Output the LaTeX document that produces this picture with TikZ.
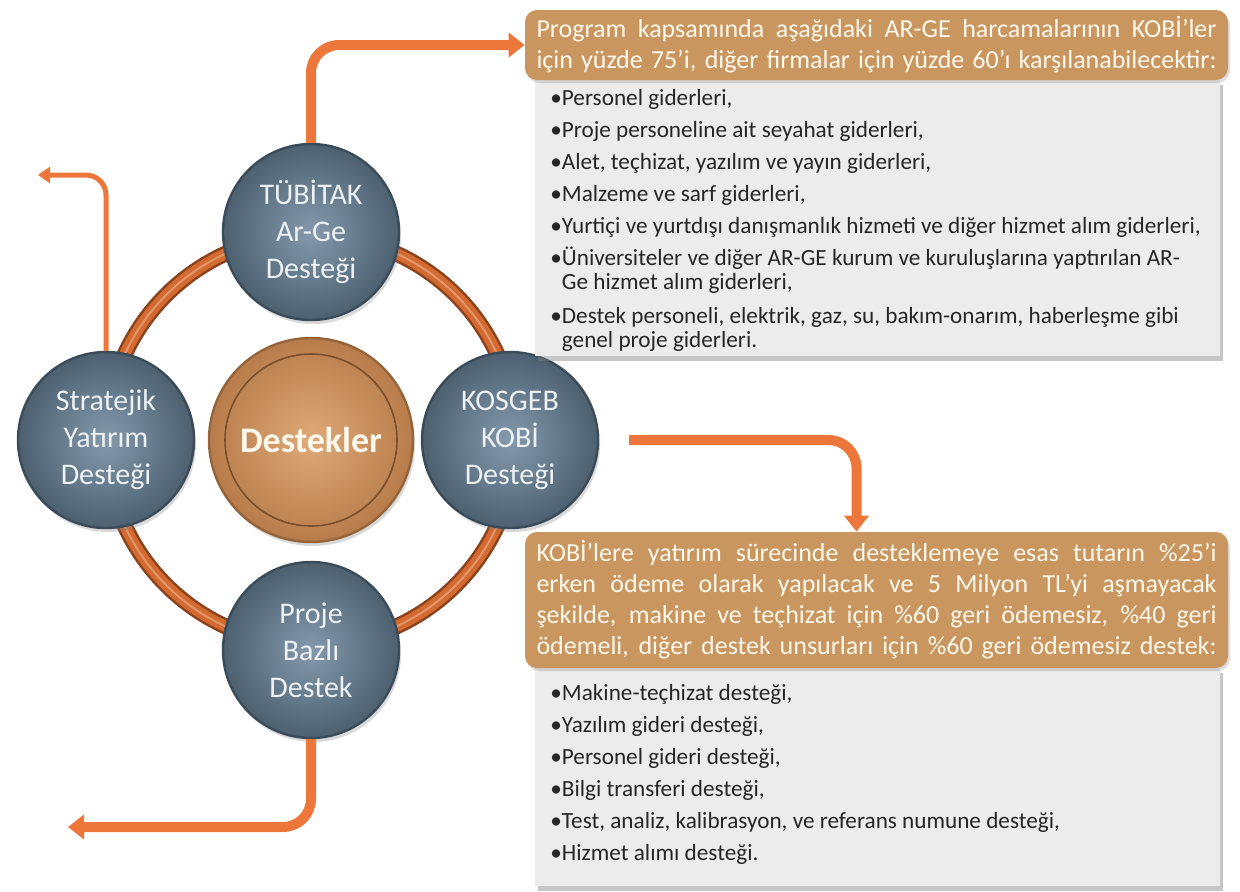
\documentclass[tikz,border=0pt]{standalone}
\usepackage{fontspec}
\setmainfont{Carlito}
\usepackage{tikz}
\usetikzlibrary{arrows.meta,positioning,calc,shadows}

\definecolor{slatein}{RGB}{132,154,172}
\definecolor{slateout}{RGB}{76,96,112}
\definecolor{slaterim}{RGB}{58,76,90}
\definecolor{hubin}{RGB}{222,170,120}
\definecolor{hubout}{RGB}{184,124,74}
\definecolor{hubrim}{RGB}{150,100,58}
\definecolor{ringorange}{RGB}{212,106,48}
\definecolor{ringdark}{RGB}{140,66,28}
\definecolor{arroworange}{RGB}{237,118,58}
\definecolor{headtan}{RGB}{201,150,96}
\definecolor{headtext}{RGB}{255,248,236}
\definecolor{listgray}{RGB}{236,236,236}
\definecolor{circtext}{RGB}{236,241,244}

\newlength\headw
\setlength\headw{340pt}
\newcommand{\hl}[1]{\makebox[\headw][s]{#1}}
\newcommand{\gap}{\phantom{\textbullet}}

\begin{document}
\begin{tikzpicture}[x=0.5pt,y=-0.5pt,
  pill/.style={circle, minimum size=88pt, inner sep=0pt, align=center,
    shading=radial, inner color=slatein, outer color=slateout,
    draw=slaterim, line width=1.2pt, text=circtext,
    font=\fontsize{15}{18.5}\selectfont,
    drop shadow={opacity=0.3, shadow xshift=1pt, shadow yshift=-2pt}},
  hub/.style={circle, minimum size=102pt, inner sep=0pt,
    shading=radial, inner color=hubin, outer color=hubout,
    draw=hubrim, line width=1.2pt, text=headtext,
    font=\fontsize{18}{21}\selectfont\bfseries,
    drop shadow={opacity=0.3, shadow xshift=1pt, shadow yshift=-2pt}},
  arrowline/.style={draw=arroworange, line width=5pt, rounded corners=14pt,
    -{Triangle[length=8pt,width=12pt]}},
  thinarrow/.style={draw=arroworange, line width=2.5pt, rounded corners=10pt,
    -{Triangle[length=6pt,width=8pt]}},
  headbox/.style={rectangle, rounded corners=6pt, fill=headtan, text=headtext,
    minimum width=351.5pt, inner sep=0pt,
    font=\fontsize{13}{15.5}\selectfont, align=center,
    drop shadow={opacity=0.25, shadow xshift=1pt, shadow yshift=-1.5pt}},
  listbox/.style={rectangle, fill=listgray, minimum width=342.5pt, inner sep=0pt,
    drop shadow={opacity=0.45, shadow xshift=1.5pt, shadow yshift=-2.5pt}},
  listtext/.style={anchor=north west, inner sep=0pt, align=left,
    text=black!85, font=\fontsize{11.6}{12}\selectfont}]

\useasboundingbox (0,0) rectangle (1240,891);

% middle
\node[hub] (destekler) at (311,440) {Destekler};
\draw[hubrim!80!black, line width=0.8pt] (destekler.center) circle[radius=86];

% ring behind the four circles
\draw[ringdark, line width=8pt] (destekler.center) circle[radius=205];
\draw[ringorange, line width=5.5pt] (destekler.center) circle[radius=205];
\draw[ringorange!70!white, line width=1pt] (destekler.center) circle[radius=205];

\node[pill] (tubitak) at (311,232) {TÜBİTAK\\Ar-Ge\\Desteği};
\node[pill] (kosgeb) at (510,440) {KOSGEB\\KOBİ\\Desteği};
\node[pill] (stratejik) at (106,440) {Stratejik\\Yatırım\\Desteği};
\node[pill] (proje) at (311,650) {Proje\\Bazlı\\Destek};

% boxes on the right
\node[listbox, minimum height=138pt] (argelist) at (877.5,218) {};
\node[headbox, minimum height=35pt] (argehead) at (876.5,45)
  {\hl{Program kapsamında aşağıdaki AR-GE harcamalarının KOBİ'ler}\\
   \hl{için yüzde 75'i, diğer firmalar için yüzde 60'ı karşılanabilecektir:}};
\node[listtext] (argeitems) at (550,89)
  {\textbullet Personel giderleri,\\[4pt]
   \textbullet Proje personeline ait seyahat giderleri,\\[4pt]
   \textbullet Alet, teçhizat, yazılım ve yayın giderleri,\\[4pt]
   \textbullet Malzeme ve sarf giderleri,\\[4pt]
   \textbullet Yurtiçi ve yurtdışı danışmanlık hizmeti ve diğer hizmet alım giderleri,\\[4pt]
   \textbullet Üniversiteler ve diğer AR-GE kurum ve kuruluşlarına yaptırılan AR-\\
   \gap Ge hizmet alım giderleri,\\[5pt]
   \textbullet Destek personeli, elektrik, gaz, su, bakım-onarım, haberleşme gibi\\
   \gap genel proje giderleri.};

\node[listbox, minimum height=109pt] (kobilist) at (877.5,777) {};
\node[headbox, minimum height=68pt] (kobihead) at (876.5,600)
  {\hl{KOBİ'lere yatırım sürecinde desteklemeye esas tutarın \%25'i}\\
   \hl{erken ödeme olarak yapılacak ve 5 Milyon TL'yi aşmayacak}\\
   \hl{şekilde, makine ve teçhizat için \%60 geri ödemesiz, \%40 geri}\\
   \hl{ödemeli, diğer destek unsurları için \%60 geri ödemesiz destek:}};
\node[listtext] (kobiitems) at (550,684)
  {\textbullet Makine-teçhizat desteği,\\[4pt]
   \textbullet Yazılım gideri desteği,\\[4pt]
   \textbullet Personel gideri desteği,\\[4pt]
   \textbullet Bilgi transferi desteği,\\[4pt]
   \textbullet Test, analiz, kalibrasyon, ve referans numune desteği,\\[4pt]
   \textbullet Hizmet alımı desteği.};

% arrows
\coordinate (stratend) at (38,175);
\coordinate (projeend) at (68,827);

\draw[arrowline] (tubitak.north) |- (argehead.west);
\draw[arrowline] ([xshift=15pt]kosgeb.east) -| ([xshift=-10pt]kobihead.north);
\draw[thinarrow] (stratejik.north) |- (stratend);
\draw[arrowline] (proje.south) |- (projeend);
\end{tikzpicture}
\end{document}
